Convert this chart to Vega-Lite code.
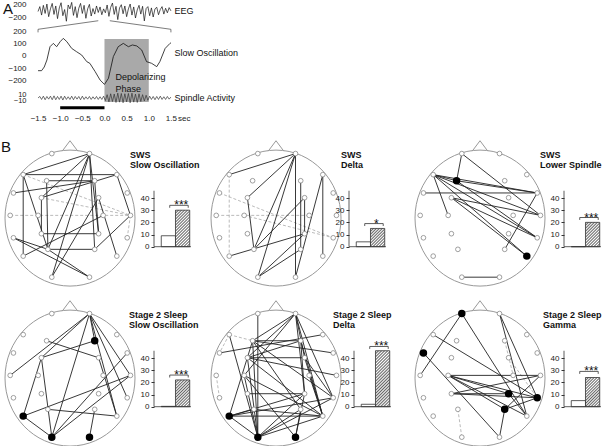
{
"$schema":"https://vega.github.io/schema/vega-lite/v6.json",
"padding":{"left":1,"top":0,"right":2,"bottom":2},
"config":{"view":{"stroke":null},"font":"Liberation Sans","axis":{"grid":false,"labelColor":"#222","domainColor":"#333","tickColor":"#333"}},
"datasets":{
"elec":[{"e":"Fp1","x":-0.28,"y":0.95},{"e":"Fp2","x":0.3,"y":0.95},{"e":"F7","x":-0.72,"y":0.64},{"e":"F8","x":0.72,"y":0.64},{"e":"F3","x":-0.36,"y":0.55},{"e":"F4","x":0.38,"y":0.55},{"e":"FT7","x":-0.87,"y":0.37},{"e":"FT8","x":0.88,"y":0.37},{"e":"FC3","x":-0.44,"y":0.3},{"e":"FC4","x":0.44,"y":0.3},{"e":"T7","x":-0.92,"y":0.04},{"e":"T8","x":0.93,"y":0.04},{"e":"C3","x":-0.49,"y":0.04},{"e":"C4","x":0.51,"y":0.04},{"e":"TP7","x":-0.87,"y":-0.29},{"e":"TP8","x":0.88,"y":-0.29},{"e":"CP3","x":-0.44,"y":-0.23},{"e":"CP4","x":0.44,"y":-0.23},{"e":"P7","x":-0.72,"y":-0.56},{"e":"P8","x":0.72,"y":-0.56},{"e":"P3","x":-0.34,"y":-0.46},{"e":"P4","x":0.38,"y":-0.46},{"e":"O1","x":-0.28,"y":-0.87},{"e":"O2","x":0.3,"y":-0.87}],
"edges":[
{"p":1,"a":"F7","b":"F8"},{"p":1,"a":"F7","b":"Fp2"},{"p":1,"a":"F7","b":"P3"},{"p":1,"a":"F7","b":"P7"},{"p":1,"a":"FT7","b":"F4"},{"p":1,"a":"F3","b":"F4"},{"p":1,"a":"FC3","b":"CP3"},{"p":1,"a":"F3","b":"P3"},{"p":1,"a":"Fp2","b":"P4"},{"p":1,"a":"F4","b":"CP4"},{"p":1,"a":"CP3","b":"CP4"},{"p":1,"a":"P3","b":"P4"},{"p":1,"a":"TP7","b":"O2"},{"p":1,"a":"Fp2","b":"O1"},{"p":1,"a":"Fp2","b":"P3"},{"p":1,"a":"Fp2","b":"FC3"},{"p":1,"a":"O1","b":"FC4"},{"p":1,"a":"P7","b":"C4"},{"p":1,"a":"P3","b":"O2"},{"p":1,"a":"FC4","b":"P8"},{"p":1,"a":"T8","b":"P4"},{"p":1,"a":"F8","b":"T8"},{"p":1,"a":"Fp2","b":"CP4"},{"p":1,"a":"TP7","b":"P3"},{"p":1,"a":"FC3","b":"F8"},
{"p":1,"a":"F7","b":"T8","k":"d"},{"p":1,"a":"FC3","b":"T8","k":"d"},{"p":1,"a":"T7","b":"T8","k":"d"},{"p":1,"a":"T8","b":"TP8","k":"d"},
{"p":2,"a":"F7","b":"Fp2"},{"p":2,"a":"Fp2","b":"FC3"},{"p":2,"a":"Fp2","b":"O1"},{"p":2,"a":"Fp2","b":"O2"},{"p":2,"a":"Fp2","b":"P3"},{"p":2,"a":"FC3","b":"P3"},{"p":2,"a":"F4","b":"P4"},{"p":2,"a":"FC4","b":"CP4"},{"p":2,"a":"F8","b":"O2"},{"p":2,"a":"F8","b":"P8"},{"p":2,"a":"P3","b":"FC4"},{"p":2,"a":"P7","b":"CP4"},{"p":2,"a":"O1","b":"CP4"},{"p":2,"a":"O1","b":"P4"},
{"p":2,"a":"FT7","b":"TP8","k":"d"},{"p":2,"a":"T7","b":"C4","k":"d"},{"p":2,"a":"C3","b":"TP8","k":"d"},{"p":2,"a":"F7","b":"P7","k":"d"},
{"p":3,"a":"Fp1","b":"F3"},{"p":3,"a":"Fp1","b":"T8"},{"p":3,"a":"F7","b":"FT8"},{"p":3,"a":"F7","b":"T8"},{"p":3,"a":"F7","b":"TP8"},{"p":3,"a":"F7","b":"C3"},{"p":3,"a":"F7","b":"F3"},{"p":3,"a":"F3","b":"FT8"},{"p":3,"a":"FT7","b":"FT8"},{"p":3,"a":"FC3","b":"P8"},{"p":3,"a":"FC3","b":"TP8"},{"p":3,"a":"FC3","b":"T8"},{"p":3,"a":"F7","b":"P8"},{"p":3,"a":"P4","b":"FT8"},{"p":3,"a":"O1","b":"O2"},{"p":3,"a":"F3","b":"TP8"},
{"p":4,"a":"Fp2","b":"T7"},{"p":4,"a":"Fp2","b":"FC3"},{"p":4,"a":"Fp2","b":"F4"},{"p":4,"a":"Fp2","b":"T8"},{"p":4,"a":"Fp2","b":"P8"},{"p":4,"a":"Fp2","b":"O1"},{"p":4,"a":"F4","b":"FC3"},{"p":4,"a":"F3","b":"FC4"},{"p":4,"a":"FC3","b":"P7"},{"p":4,"a":"FC3","b":"O1"},{"p":4,"a":"P7","b":"T8"},{"p":4,"a":"P7","b":"O1"},{"p":4,"a":"P3","b":"P8"},{"p":4,"a":"O1","b":"T8"},{"p":4,"a":"O1","b":"FT8"},{"p":4,"a":"O2","b":"P4"},{"p":4,"a":"FC4","b":"P8"},{"p":4,"a":"Fp2","b":"TP8"},
{"p":5,"a":"Fp1","b":"O1"},{"p":5,"a":"Fp2","b":"F3"},{"p":5,"a":"Fp2","b":"FC3"},{"p":5,"a":"Fp2","b":"C3"},{"p":5,"a":"Fp2","b":"CP4"},{"p":5,"a":"Fp2","b":"P8"},{"p":5,"a":"Fp2","b":"TP8"},{"p":5,"a":"Fp2","b":"FC4"},{"p":5,"a":"F3","b":"F4"},{"p":5,"a":"F3","b":"FT8"},{"p":5,"a":"F3","b":"P7"},{"p":5,"a":"F3","b":"O1"},{"p":5,"a":"F3","b":"P4"},{"p":5,"a":"F3","b":"TP8"},{"p":5,"a":"FT7","b":"F8"},{"p":5,"a":"FC3","b":"FC4"},{"p":5,"a":"FC3","b":"T8"},{"p":5,"a":"FC3","b":"P8"},{"p":5,"a":"FC3","b":"O1"},{"p":5,"a":"C3","b":"O1"},{"p":5,"a":"C3","b":"P8"},{"p":5,"a":"F4","b":"CP4"},{"p":5,"a":"F4","b":"P8"},{"p":5,"a":"F4","b":"FC3"},{"p":5,"a":"FC4","b":"TP8"},{"p":5,"a":"FC4","b":"P8"},{"p":5,"a":"P7","b":"TP8"},{"p":5,"a":"P7","b":"P8"},{"p":5,"a":"P7","b":"CP4"},{"p":5,"a":"P7","b":"O1"},{"p":5,"a":"P7","b":"P3"},{"p":5,"a":"P3","b":"P8"},{"p":5,"a":"O1","b":"TP8"},{"p":5,"a":"O1","b":"P8"},{"p":5,"a":"O1","b":"CP4"},{"p":5,"a":"O1","b":"P4"},{"p":5,"a":"O2","b":"P4"},{"p":5,"a":"O2","b":"CP4"},{"p":5,"a":"O2","b":"C3"},{"p":5,"a":"F7","b":"O1"},{"p":5,"a":"CP3","b":"CP4"},{"p":5,"a":"C4","b":"P8"},
{"p":5,"a":"F7","b":"F3","k":"d"},{"p":5,"a":"T7","b":"TP7","k":"d"},{"p":5,"a":"F7","b":"FT7","k":"d"},
{"p":6,"a":"Fp1","b":"P8"},{"p":6,"a":"Fp1","b":"T7"},{"p":6,"a":"Fp2","b":"TP8"},{"p":6,"a":"Fp2","b":"P8"},{"p":6,"a":"F7","b":"TP8"},{"p":6,"a":"FT7","b":"O2"},{"p":6,"a":"C3","b":"TP8"},{"p":6,"a":"C3","b":"CP4"},{"p":6,"a":"C3","b":"P8"},{"p":6,"a":"CP3","b":"T8"},{"p":6,"a":"CP3","b":"TP8"},{"p":6,"a":"CP3","b":"CP4"},{"p":6,"a":"P4","b":"TP8"},{"p":6,"a":"P4","b":"T8"},{"p":6,"a":"P4","b":"O2"},{"p":6,"a":"P4","b":"C3"},{"p":6,"a":"CP4","b":"P8"},{"p":6,"a":"C3","b":"T8"},
{"p":6,"a":"P3","b":"O1","k":"d"},{"p":6,"a":"FC4","b":"TP8","k":"d"},{"p":6,"a":"F4","b":"C4","k":"d"}
],
"black":[{"p":3,"e":"F3"},{"p":3,"e":"P8"},{"p":4,"e":"F4"},{"p":4,"e":"P7"},{"p":4,"e":"O1"},{"p":4,"e":"O2"},{"p":5,"e":"P7"},{"p":5,"e":"O1"},{"p":5,"e":"O2"},{"p":6,"e":"Fp1"},{"p":6,"e":"FT7"},{"p":6,"e":"CP4"},{"p":6,"e":"P4"},{"p":6,"e":"TP8"}],
"eeg":[{"t":-1.5,"v":0},{"t":-1.46,"v":150},{"t":-1.42,"v":-110},{"t":-1.38,"v":190},{"t":-1.34,"v":-60},{"t":-1.3,"v":230},{"t":-1.26,"v":-160},{"t":-1.22,"v":80},{"t":-1.18,"v":250},{"t":-1.14,"v":-90},{"t":-1.1,"v":170},{"t":-1.06,"v":-220},{"t":-1.02,"v":110},{"t":-0.98,"v":270},{"t":-0.94,"v":-130},{"t":-0.9,"v":60},{"t":-0.86,"v":-300},{"t":-0.82,"v":200},{"t":-0.78,"v":80},{"t":-0.74,"v":280},{"t":-0.7,"v":-120},{"t":-0.66,"v":150},{"t":-0.62,"v":-190},{"t":-0.58,"v":100},{"t":-0.54,"v":250},{"t":-0.5,"v":-60},{"t":-0.46,"v":190},{"t":-0.42,"v":-210},{"t":-0.38,"v":80},{"t":-0.34,"v":220},{"t":-0.3,"v":-140},{"t":-0.26,"v":90},{"t":-0.22,"v":-80},{"t":-0.18,"v":170},{"t":-0.14,"v":-30},{"t":-0.1,"v":140},{"t":-0.06,"v":-100},{"t":-0.02,"v":80},{"t":0.02,"v":-40},{"t":0.06,"v":200},{"t":0.1,"v":-150},{"t":0.14,"v":130},{"t":0.18,"v":260},{"t":0.22,"v":-90},{"t":0.26,"v":160},{"t":0.3,"v":-250},{"t":0.34,"v":110},{"t":0.38,"v":210},{"t":0.42,"v":-70},{"t":0.46,"v":170},{"t":0.5,"v":-160},{"t":0.54,"v":80},{"t":0.58,"v":230},{"t":0.62,"v":-110},{"t":0.66,"v":140},{"t":0.7,"v":-200},{"t":0.74,"v":50},{"t":0.78,"v":190},{"t":0.82,"v":-80},{"t":0.86,"v":160},{"t":0.9,"v":-290},{"t":0.94,"v":90},{"t":0.98,"v":150},{"t":1.02,"v":-130},{"t":1.06,"v":110},{"t":1.1,"v":-170},{"t":1.14,"v":80},{"t":1.18,"v":130},{"t":1.22,"v":-100},{"t":1.26,"v":60},{"t":1.3,"v":150},{"t":1.34,"v":-80},{"t":1.38,"v":100},{"t":1.42,"v":-40},{"t":1.46,"v":120},{"t":1.5,"v":20}],
"so":[{"t":-1.5,"v":-120},{"t":-1.42,"v":-120},{"t":-1.36,"v":-90},{"t":-1.3,"v":-33},{"t":-1.23,"v":76},{"t":-1.155,"v":103},{"t":-1.08,"v":76},{"t":-1.0,"v":117},{"t":-0.93,"v":144},{"t":-0.85,"v":117},{"t":-0.74,"v":62},{"t":-0.63,"v":35},{"t":-0.515,"v":8},{"t":-0.4,"v":-46},{"t":-0.33,"v":-60},{"t":-0.21,"v":-128},{"t":-0.1,"v":-196},{"t":0.0,"v":-232},{"t":0.09,"v":-182},{"t":0.2,"v":-5},{"t":0.31,"v":76},{"t":0.425,"v":103},{"t":0.54,"v":76},{"t":0.63,"v":90},{"t":0.73,"v":82},{"t":0.84,"v":49},{"t":0.95,"v":-46},{"t":1.065,"v":-60},{"t":1.18,"v":-87},{"t":1.25,"v":-46},{"t":1.37,"v":62},{"t":1.48,"v":103},{"t":1.5,"v":108}],
"sp":[{"t":-1.5,"v":0},{"t":-1.46,"v":5},{"t":-1.42,"v":-5},{"t":-1.38,"v":6},{"t":-1.34,"v":-6},{"t":-1.3,"v":5},{"t":-1.26,"v":-4},{"t":-1.22,"v":6},{"t":-1.18,"v":-6},{"t":-1.14,"v":7},{"t":-1.1,"v":-6},{"t":-1.06,"v":5},{"t":-1.02,"v":-5},{"t":-0.98,"v":6},{"t":-0.94,"v":-7},{"t":-0.9,"v":6},{"t":-0.86,"v":-5},{"t":-0.82,"v":4},{"t":-0.78,"v":-5},{"t":-0.74,"v":6},{"t":-0.7,"v":-6},{"t":-0.66,"v":5},{"t":-0.62,"v":-4},{"t":-0.58,"v":5},{"t":-0.54,"v":-6},{"t":-0.5,"v":6},{"t":-0.46,"v":-5},{"t":-0.42,"v":4},{"t":-0.38,"v":-4},{"t":-0.34,"v":5},{"t":-0.3,"v":-5},{"t":-0.26,"v":4},{"t":-0.22,"v":-4},{"t":-0.18,"v":5},{"t":-0.14,"v":-5},{"t":-0.1,"v":4},{"t":-0.06,"v":-5},{"t":-0.02,"v":6},{"t":0.02,"v":-9},{"t":0.06,"v":11},{"t":0.1,"v":-13},{"t":0.14,"v":14},{"t":0.18,"v":-12},{"t":0.22,"v":13},{"t":0.26,"v":-15},{"t":0.3,"v":16},{"t":0.34,"v":-14},{"t":0.38,"v":15},{"t":0.42,"v":-16},{"t":0.46,"v":14},{"t":0.5,"v":-13},{"t":0.54,"v":15},{"t":0.58,"v":-16},{"t":0.62,"v":16},{"t":0.66,"v":-14},{"t":0.7,"v":13},{"t":0.74,"v":-15},{"t":0.78,"v":14},{"t":0.82,"v":-12},{"t":0.86,"v":11},{"t":0.9,"v":-10},{"t":0.94,"v":9},{"t":0.98,"v":-8},{"t":1.02,"v":6},{"t":1.06,"v":-5},{"t":1.1,"v":5},{"t":1.14,"v":-6},{"t":1.18,"v":5},{"t":1.22,"v":-5},{"t":1.26,"v":6},{"t":1.3,"v":-5},{"t":1.34,"v":4},{"t":1.38,"v":-5},{"t":1.42,"v":5},{"t":1.46,"v":-4},{"t":1.5,"v":3}]
},
"spacing":9,
"vconcat":[
{"spacing":16,"vconcat":[
 {"width":254.5,"height":112,
  "resolve":{"scale":{"y":"independent"},"axis":{"y":"independent"}},
  "encoding":{"x":{"field":"t","type":"quantitative","scale":{"domain":[-2.246,3.5],"nice":false,"zero":false},"axis":{"values":[-1.5,-1,-0.5,0,0.5,1,1.5,1.79],"labelExpr":"datum.value > 1.6 ? 'sec' : format(datum.value, '.1f')","domain":false,"ticks":false,"labelFontSize":8,"labelPadding":2,"title":null,"labelOverlap":false,"labelFlush":false}}},
  "layer":[
   {"data":{"values":[{"t":0,"t2":1,"v":139,"v2":-375.7}]},"mark":{"type":"rect","fill":"#a9a9a9"},"encoding":{"x2":{"field":"t2"},"y":{"field":"v","type":"quantitative","scale":{"domain":[-457.4,457.3],"nice":false,"zero":false},"axis":null},"y2":{"field":"v2"}}},
   {"data":{"name":"eeg"},"mark":{"type":"line","stroke":"#111","strokeWidth":0.7},"encoding":{"y":{"field":"v","type":"quantitative","scale":{"domain":[-3096,354],"nice":false,"zero":false},"axis":{"orient":"left","offset":-32,"values":[200,-200],"domain":false,"ticks":false,"labelFontSize":8,"labelPadding":11,"title":null,"labelOverlap":false}}}},
   {"data":{"name":"so"},"mark":{"type":"line","stroke":"#111","strokeWidth":0.8},"encoding":{"y":{"field":"v","type":"quantitative","scale":{"domain":[-457.4,457.3],"nice":false,"zero":false},"axis":{"orient":"left","offset":-32,"values":[200,100,0,-100,-200],"domain":false,"ticks":false,"labelFontSize":8,"labelPadding":11,"title":null,"labelOverlap":false}}}},
   {"data":{"name":"sp"},"mark":{"type":"line","stroke":"#333","strokeWidth":0.7},"encoding":{"y":{"field":"v","type":"quantitative","scale":{"domain":[-47,327.7],"nice":false,"zero":false},"axis":{"orient":"left","offset":-32,"values":[10,-10],"domain":false,"ticks":false,"labelFontSize":7.5,"labelPadding":11,"title":null,"labelOverlap":false}}}},
   {"data":{"values":[{"t":-1.5,"v":193,"g":"l","o":1},{"t":-1.5,"v":218,"g":"l","o":2},{"t":-0.14,"v":288,"g":"l","o":3},{"t":0.12,"v":288,"g":"r","o":1},{"t":1.5,"v":218,"g":"r","o":2},{"t":1.5,"v":193,"g":"r","o":3}]},"mark":{"type":"line","stroke":"#444","strokeWidth":0.7},"encoding":{"y":{"field":"v","type":"quantitative","scale":{"domain":[-457.4,457.3],"nice":false,"zero":false},"axis":null},"detail":{"field":"g"},"order":{"field":"o"}}},
   {"data":{"values":[{"t":-1,"t2":0,"v":-33}]},"mark":{"type":"rule","stroke":"#000","strokeWidth":3},"encoding":{"x2":{"field":"t2"},"y":{"field":"v","type":"quantitative","scale":{"domain":[-47,327.7],"nice":false,"zero":false},"axis":null}}},
   {"data":{"values":[{"t":1.58,"v":370,"s":"EEG"},{"t":1.58,"v":22,"s":"Slow Oscillation"},{"t":1.58,"v":-345,"s":"Spindle Activity"},{"t":0.25,"v":-174,"s":"Depolarizing"},{"t":0.25,"v":-272,"s":"Phase"}]},"mark":{"type":"text","align":"left","baseline":"middle","fontSize":9,"fill":"#111"},"encoding":{"y":{"field":"v","type":"quantitative","scale":{"domain":[-457.4,457.3],"nice":false,"zero":false},"axis":null},"text":{"field":"s"}}},
   {"data":{"values":[{"t":-2.29,"v":441,"s":"A"}]},"mark":{"type":"text","align":"left","baseline":"top","fontSize":15,"fill":"#111"},"encoding":{"y":{"field":"v","type":"quantitative","scale":{"domain":[-457.4,457.3],"nice":false,"zero":false},"axis":null},"text":{"field":"s"}}}
  ]},
 {"bounds":"flush","spacing":8,"hconcat":[
  {"width":141,"height":146,
   "encoding":{"x":{"field":"x","type":"quantitative","scale":{"domain":[-1,1.169],"nice":false,"zero":false},"axis":null},"y":{"field":"y","type":"quantitative","scale":{"domain":[-1,1.15],"nice":false,"zero":false},"axis":null}},
   "layer":[
    {"data":{"values":[{"x":0,"y":0}]},"mark":{"type":"point","shape":"M -1 0 A 1 1.046 0 1 1 1 0 A 1 1.046 0 1 1 -1 0 Z M -0.12 -1.03 L 0 -1.19 L 0.12 -1.03","size":16900,"filled":false,"stroke":"#999","strokeWidth":1,"opacity":1}},
    {"data":{"name":"edges"},"transform":[{"filter":"datum.p==1 && datum.k=='d'"},{"lookup":"a","from":{"data":{"name":"elec"},"key":"e","fields":["x","y"]},"as":["x","y"]},{"lookup":"b","from":{"data":{"name":"elec"},"key":"e","fields":["x","y"]},"as":["xb","yb"]}],"mark":{"type":"rule","stroke":"#aaa","strokeWidth":0.8,"strokeDash":[3,2]},"encoding":{"x2":{"field":"xb"},"y2":{"field":"yb"}}},
    {"data":{"name":"edges"},"transform":[{"filter":"datum.p==1 && datum.k!='d'"},{"lookup":"a","from":{"data":{"name":"elec"},"key":"e","fields":["x","y"]},"as":["x","y"]},{"lookup":"b","from":{"data":{"name":"elec"},"key":"e","fields":["x","y"]},"as":["xb","yb"]}],"mark":{"type":"rule","stroke":"#222","strokeWidth":0.9},"encoding":{"x2":{"field":"xb"},"y2":{"field":"yb"}}},
    {"data":{"name":"elec"},"mark":{"type":"point","filled":true,"fill":"#fff","stroke":"#888","strokeWidth":0.8,"size":22,"opacity":1}},
    {"data":{"values":[{"x":-1.06,"y":1.155,"s":"B"}]},"mark":{"type":"text","align":"left","baseline":"top","fontSize":15,"fill":"#111"},"encoding":{"text":{"field":"s"}}}
   ]},
  {"width":37,"height":146,"resolve":{"scale":{"x":"independent"}},
   "data":{"values":[{"c":"a","v":9},{"c":"b","v":30}]},
   "layer":[
    {"transform":[{"filter":"datum.c=='a'"}],"mark":{"type":"bar","fill":"#fff","stroke":"#333","strokeWidth":0.8},"encoding":{"x":{"field":"c","type":"nominal","scale":{"domain":["a","b"],"paddingInner":0,"paddingOuter":0.3,"align":0.85},"axis":null},"y":{"field":"v","type":"quantitative","scale":{"domain":[-32.3,87.7],"nice":false},"axis":{"values":[0,10,20,30,40],"domain":false,"title":null,"tickSize":3,"labelFontSize":8,"labelPadding":2}},"y2":{"datum":0}}},
    {"transform":[{"filter":"datum.c=='b'"}],"mark":{"type":"bar","stroke":"#333","strokeWidth":0.8,"fill":{"gradient":"linear","x1":0,"y1":0,"x2":0.469,"y2":1.207,"stops":[{"offset":0,"color":"#666"},{"offset":0.029,"color":"#fff"},{"offset":0.059,"color":"#666"},{"offset":0.088,"color":"#fff"},{"offset":0.118,"color":"#666"},{"offset":0.147,"color":"#fff"},{"offset":0.176,"color":"#666"},{"offset":0.206,"color":"#fff"},{"offset":0.235,"color":"#666"},{"offset":0.265,"color":"#fff"},{"offset":0.294,"color":"#666"},{"offset":0.324,"color":"#fff"},{"offset":0.353,"color":"#666"},{"offset":0.382,"color":"#fff"},{"offset":0.412,"color":"#666"},{"offset":0.441,"color":"#fff"},{"offset":0.471,"color":"#666"},{"offset":0.5,"color":"#fff"},{"offset":0.529,"color":"#666"},{"offset":0.559,"color":"#fff"},{"offset":0.588,"color":"#666"},{"offset":0.618,"color":"#fff"},{"offset":0.647,"color":"#666"},{"offset":0.676,"color":"#fff"},{"offset":0.706,"color":"#666"},{"offset":0.735,"color":"#fff"},{"offset":0.765,"color":"#666"},{"offset":0.794,"color":"#fff"},{"offset":0.824,"color":"#666"},{"offset":0.853,"color":"#fff"},{"offset":0.882,"color":"#666"},{"offset":0.912,"color":"#fff"},{"offset":0.941,"color":"#666"},{"offset":0.971,"color":"#fff"},{"offset":1,"color":"#666"}]}},"encoding":{"x":{"field":"c","type":"nominal","scale":{"domain":["a","b"],"paddingInner":0,"paddingOuter":0.3,"align":0.85},"axis":null},"y":{"field":"v","type":"quantitative","scale":{"domain":[-32.3,87.7],"nice":false},"axis":{"values":[0,10,20,30,40],"domain":false,"title":null,"tickSize":3,"labelFontSize":8,"labelPadding":2}},"y2":{"datum":0}}},
    {"data":{"values":[{"c":"a","v":32,"o":1},{"c":"a","v":34,"o":2},{"c":"b","v":34,"o":3},{"c":"b","v":32,"o":4}]},"mark":{"type":"line","stroke":"#333","strokeWidth":0.8},"encoding":{"x":{"field":"c","type":"nominal","scale":{"domain":["a","b"],"paddingInner":0,"paddingOuter":0.3,"align":0.85},"axis":null},"y":{"field":"v","type":"quantitative","scale":{"domain":[-32.3,87.7],"nice":false},"axis":{"values":[0,10,20,30,40],"domain":false,"title":null,"tickSize":3,"labelFontSize":8,"labelPadding":2}},"order":{"field":"o"}}},
    {"data":{"values":[{"c":"b","v":34,"s":"***"}]},"mark":{"type":"text","align":"center","baseline":"alphabetic","dx":-7,"dy":4,"fontSize":12,"fill":"#111"},"encoding":{"x":{"field":"c","type":"nominal","scale":{"domain":["a","b"],"paddingInner":0,"paddingOuter":0.3,"align":0.85},"axis":null},"y":{"field":"v","type":"quantitative","scale":{"domain":[-32.3,87.7],"nice":false},"axis":{"values":[0,10,20,30,40],"domain":false,"title":null,"tickSize":3,"labelFontSize":8,"labelPadding":2}},"text":{"field":"s"}}},
    {"data":{"values":[{}]},"mark":{"type":"rule","stroke":"#333","strokeWidth":0.8},"encoding":{"y":{"datum":0,"type":"quantitative","scale":{"domain":[-32.3,87.7],"nice":false},"axis":{"values":[0,10,20,30,40],"domain":false,"title":null,"tickSize":3,"labelFontSize":8,"labelPadding":2}}}},
    {"data":{"values":[{}]},"mark":{"type":"rule","stroke":"#333","strokeWidth":0.8},"encoding":{"x":{"datum":0,"type":"quantitative","scale":{"domain":[0,1]},"axis":null},"y":{"datum":0,"type":"quantitative","scale":{"domain":[-32.3,87.7],"nice":false},"axis":{"values":[0,10,20,30,40],"domain":false,"title":null,"tickSize":3,"labelFontSize":8,"labelPadding":2}},"y2":{"datum":46}}},
    {"data":{"values":[{"s":"SWS","v":75.5},{"s":"Slow Oscillation","v":67.3}]},"mark":{"type":"text","align":"left","baseline":"middle","dx":-24,"fontSize":9,"fontWeight":"bold","fill":"#111"},"encoding":{"x":{"datum":0,"type":"quantitative","scale":{"domain":[0,1]},"axis":null},"y":{"field":"v","type":"quantitative","scale":{"domain":[-32.3,87.7],"nice":false},"axis":{"values":[0,10,20,30,40],"domain":false,"title":null,"tickSize":3,"labelFontSize":8,"labelPadding":2}},"text":{"field":"s"}}}
   ]},
  {"width":142,"height":146,
   "encoding":{"x":{"field":"x","type":"quantitative","scale":{"domain":[-1.185,1],"nice":false,"zero":false},"axis":null},"y":{"field":"y","type":"quantitative","scale":{"domain":[-1,1.15],"nice":false,"zero":false},"axis":null}},
   "layer":[
    {"data":{"values":[{"x":0,"y":0}]},"mark":{"type":"point","shape":"M -1 0 A 1 1.046 0 1 1 1 0 A 1 1.046 0 1 1 -1 0 Z M -0.12 -1.03 L 0 -1.19 L 0.12 -1.03","size":16900,"filled":false,"stroke":"#999","strokeWidth":1,"opacity":1}},
    {"data":{"name":"edges"},"transform":[{"filter":"datum.p==2 && datum.k=='d'"},{"lookup":"a","from":{"data":{"name":"elec"},"key":"e","fields":["x","y"]},"as":["x","y"]},{"lookup":"b","from":{"data":{"name":"elec"},"key":"e","fields":["x","y"]},"as":["xb","yb"]}],"mark":{"type":"rule","stroke":"#aaa","strokeWidth":0.8,"strokeDash":[3,2]},"encoding":{"x2":{"field":"xb"},"y2":{"field":"yb"}}},
    {"data":{"name":"edges"},"transform":[{"filter":"datum.p==2 && datum.k!='d'"},{"lookup":"a","from":{"data":{"name":"elec"},"key":"e","fields":["x","y"]},"as":["x","y"]},{"lookup":"b","from":{"data":{"name":"elec"},"key":"e","fields":["x","y"]},"as":["xb","yb"]}],"mark":{"type":"rule","stroke":"#222","strokeWidth":0.9},"encoding":{"x2":{"field":"xb"},"y2":{"field":"yb"}}},
    {"data":{"name":"elec"},"mark":{"type":"point","filled":true,"fill":"#fff","stroke":"#888","strokeWidth":0.8,"size":22,"opacity":1}}
   ]},
  {"width":37,"height":146,"resolve":{"scale":{"x":"independent"}},
   "data":{"values":[{"c":"a","v":4},{"c":"b","v":15}]},
   "layer":[
    {"transform":[{"filter":"datum.c=='a'"}],"mark":{"type":"bar","fill":"#fff","stroke":"#333","strokeWidth":0.8},"encoding":{"x":{"field":"c","type":"nominal","scale":{"domain":["a","b"],"paddingInner":0,"paddingOuter":0.3,"align":0.85},"axis":null},"y":{"field":"v","type":"quantitative","scale":{"domain":[-32.3,87.7],"nice":false},"axis":{"values":[0,10,20,30,40],"domain":false,"title":null,"tickSize":3,"labelFontSize":8,"labelPadding":2}},"y2":{"datum":0}}},
    {"transform":[{"filter":"datum.c=='b'"}],"mark":{"type":"bar","stroke":"#333","strokeWidth":0.8,"fill":{"gradient":"linear","x1":0,"y1":0,"x2":0.86,"y2":1.109,"stops":[{"offset":0,"color":"#666"},{"offset":0.045,"color":"#fff"},{"offset":0.091,"color":"#666"},{"offset":0.136,"color":"#fff"},{"offset":0.182,"color":"#666"},{"offset":0.227,"color":"#fff"},{"offset":0.273,"color":"#666"},{"offset":0.318,"color":"#fff"},{"offset":0.364,"color":"#666"},{"offset":0.409,"color":"#fff"},{"offset":0.455,"color":"#666"},{"offset":0.5,"color":"#fff"},{"offset":0.545,"color":"#666"},{"offset":0.591,"color":"#fff"},{"offset":0.636,"color":"#666"},{"offset":0.682,"color":"#fff"},{"offset":0.727,"color":"#666"},{"offset":0.773,"color":"#fff"},{"offset":0.818,"color":"#666"},{"offset":0.864,"color":"#fff"},{"offset":0.909,"color":"#666"},{"offset":0.955,"color":"#fff"},{"offset":1,"color":"#666"}]}},"encoding":{"x":{"field":"c","type":"nominal","scale":{"domain":["a","b"],"paddingInner":0,"paddingOuter":0.3,"align":0.85},"axis":null},"y":{"field":"v","type":"quantitative","scale":{"domain":[-32.3,87.7],"nice":false},"axis":{"values":[0,10,20,30,40],"domain":false,"title":null,"tickSize":3,"labelFontSize":8,"labelPadding":2}},"y2":{"datum":0}}},
    {"data":{"values":[{"c":"a","v":17,"o":1},{"c":"a","v":19,"o":2},{"c":"b","v":19,"o":3},{"c":"b","v":17,"o":4}]},"mark":{"type":"line","stroke":"#333","strokeWidth":0.8},"encoding":{"x":{"field":"c","type":"nominal","scale":{"domain":["a","b"],"paddingInner":0,"paddingOuter":0.3,"align":0.85},"axis":null},"y":{"field":"v","type":"quantitative","scale":{"domain":[-32.3,87.7],"nice":false},"axis":{"values":[0,10,20,30,40],"domain":false,"title":null,"tickSize":3,"labelFontSize":8,"labelPadding":2}},"order":{"field":"o"}}},
    {"data":{"values":[{"c":"b","v":19,"s":"*"}]},"mark":{"type":"text","align":"center","baseline":"alphabetic","dx":-7,"dy":4,"fontSize":12,"fill":"#111"},"encoding":{"x":{"field":"c","type":"nominal","scale":{"domain":["a","b"],"paddingInner":0,"paddingOuter":0.3,"align":0.85},"axis":null},"y":{"field":"v","type":"quantitative","scale":{"domain":[-32.3,87.7],"nice":false},"axis":{"values":[0,10,20,30,40],"domain":false,"title":null,"tickSize":3,"labelFontSize":8,"labelPadding":2}},"text":{"field":"s"}}},
    {"data":{"values":[{}]},"mark":{"type":"rule","stroke":"#333","strokeWidth":0.8},"encoding":{"y":{"datum":0,"type":"quantitative","scale":{"domain":[-32.3,87.7],"nice":false},"axis":{"values":[0,10,20,30,40],"domain":false,"title":null,"tickSize":3,"labelFontSize":8,"labelPadding":2}}}},
    {"data":{"values":[{}]},"mark":{"type":"rule","stroke":"#333","strokeWidth":0.8},"encoding":{"x":{"datum":0,"type":"quantitative","scale":{"domain":[0,1]},"axis":null},"y":{"datum":0,"type":"quantitative","scale":{"domain":[-32.3,87.7],"nice":false},"axis":{"values":[0,10,20,30,40],"domain":false,"title":null,"tickSize":3,"labelFontSize":8,"labelPadding":2}},"y2":{"datum":46}}},
    {"data":{"values":[{"s":"SWS","v":75.5},{"s":"Delta","v":67.3}]},"mark":{"type":"text","align":"left","baseline":"middle","dx":-8,"fontSize":9,"fontWeight":"bold","fill":"#111"},"encoding":{"x":{"datum":0,"type":"quantitative","scale":{"domain":[0,1]},"axis":null},"y":{"field":"v","type":"quantitative","scale":{"domain":[-32.3,87.7],"nice":false},"axis":{"values":[0,10,20,30,40],"domain":false,"title":null,"tickSize":3,"labelFontSize":8,"labelPadding":2}},"text":{"field":"s"}}}
   ]},
  {"width":162,"height":146,
   "encoding":{"x":{"field":"x","type":"quantitative","scale":{"domain":[-1.323,1.169],"nice":false,"zero":false},"axis":null},"y":{"field":"y","type":"quantitative","scale":{"domain":[-1,1.15],"nice":false,"zero":false},"axis":null}},
   "layer":[
    {"data":{"values":[{"x":0,"y":0}]},"mark":{"type":"point","shape":"M -1 0 A 1 1.046 0 1 1 1 0 A 1 1.046 0 1 1 -1 0 Z M -0.12 -1.03 L 0 -1.19 L 0.12 -1.03","size":16900,"filled":false,"stroke":"#999","strokeWidth":1,"opacity":1}},
    {"data":{"name":"edges"},"transform":[{"filter":"datum.p==3 && datum.k!='d'"},{"lookup":"a","from":{"data":{"name":"elec"},"key":"e","fields":["x","y"]},"as":["x","y"]},{"lookup":"b","from":{"data":{"name":"elec"},"key":"e","fields":["x","y"]},"as":["xb","yb"]}],"mark":{"type":"rule","stroke":"#222","strokeWidth":0.9},"encoding":{"x2":{"field":"xb"},"y2":{"field":"yb"}}},
    {"data":{"name":"elec"},"mark":{"type":"point","filled":true,"fill":"#fff","stroke":"#888","strokeWidth":0.8,"size":22,"opacity":1}},
    {"data":{"name":"black"},"transform":[{"filter":"datum.p==3"},{"lookup":"e","from":{"data":{"name":"elec"},"key":"e","fields":["x","y"]}}],"mark":{"type":"point","filled":true,"fill":"#000","stroke":"#000","size":30,"opacity":1}}
   ]},
  {"width":37,"height":146,"resolve":{"scale":{"x":"independent"}},
   "data":{"values":[{"c":"a","v":0},{"c":"b","v":20}]},
   "layer":[
    {"transform":[{"filter":"datum.c=='a'"}],"mark":{"type":"bar","fill":"#fff","stroke":"#333","strokeWidth":0.8},"encoding":{"x":{"field":"c","type":"nominal","scale":{"domain":["a","b"],"paddingInner":0,"paddingOuter":0.3,"align":0.85},"axis":null},"y":{"field":"v","type":"quantitative","scale":{"domain":[-32.3,87.7],"nice":false},"axis":{"values":[0,10,20,30,40],"domain":false,"title":null,"tickSize":3,"labelFontSize":8,"labelPadding":2}},"y2":{"datum":0}}},
    {"transform":[{"filter":"datum.c=='b'"}],"mark":{"type":"bar","stroke":"#333","strokeWidth":0.8,"fill":{"gradient":"linear","x1":0,"y1":0,"x2":0.69,"y2":1.181,"stops":[{"offset":0,"color":"#666"},{"offset":0.038,"color":"#fff"},{"offset":0.077,"color":"#666"},{"offset":0.115,"color":"#fff"},{"offset":0.154,"color":"#666"},{"offset":0.192,"color":"#fff"},{"offset":0.231,"color":"#666"},{"offset":0.269,"color":"#fff"},{"offset":0.308,"color":"#666"},{"offset":0.346,"color":"#fff"},{"offset":0.385,"color":"#666"},{"offset":0.423,"color":"#fff"},{"offset":0.462,"color":"#666"},{"offset":0.5,"color":"#fff"},{"offset":0.538,"color":"#666"},{"offset":0.577,"color":"#fff"},{"offset":0.615,"color":"#666"},{"offset":0.654,"color":"#fff"},{"offset":0.692,"color":"#666"},{"offset":0.731,"color":"#fff"},{"offset":0.769,"color":"#666"},{"offset":0.808,"color":"#fff"},{"offset":0.846,"color":"#666"},{"offset":0.885,"color":"#fff"},{"offset":0.923,"color":"#666"},{"offset":0.962,"color":"#fff"},{"offset":1,"color":"#666"}]}},"encoding":{"x":{"field":"c","type":"nominal","scale":{"domain":["a","b"],"paddingInner":0,"paddingOuter":0.3,"align":0.85},"axis":null},"y":{"field":"v","type":"quantitative","scale":{"domain":[-32.3,87.7],"nice":false},"axis":{"values":[0,10,20,30,40],"domain":false,"title":null,"tickSize":3,"labelFontSize":8,"labelPadding":2}},"y2":{"datum":0}}},
    {"data":{"values":[{"c":"a","v":22,"o":1},{"c":"a","v":24,"o":2},{"c":"b","v":24,"o":3},{"c":"b","v":22,"o":4}]},"mark":{"type":"line","stroke":"#333","strokeWidth":0.8},"encoding":{"x":{"field":"c","type":"nominal","scale":{"domain":["a","b"],"paddingInner":0,"paddingOuter":0.3,"align":0.85},"axis":null},"y":{"field":"v","type":"quantitative","scale":{"domain":[-32.3,87.7],"nice":false},"axis":{"values":[0,10,20,30,40],"domain":false,"title":null,"tickSize":3,"labelFontSize":8,"labelPadding":2}},"order":{"field":"o"}}},
    {"data":{"values":[{"c":"b","v":24,"s":"***"}]},"mark":{"type":"text","align":"center","baseline":"alphabetic","dx":-7,"dy":4,"fontSize":12,"fill":"#111"},"encoding":{"x":{"field":"c","type":"nominal","scale":{"domain":["a","b"],"paddingInner":0,"paddingOuter":0.3,"align":0.85},"axis":null},"y":{"field":"v","type":"quantitative","scale":{"domain":[-32.3,87.7],"nice":false},"axis":{"values":[0,10,20,30,40],"domain":false,"title":null,"tickSize":3,"labelFontSize":8,"labelPadding":2}},"text":{"field":"s"}}},
    {"data":{"values":[{}]},"mark":{"type":"rule","stroke":"#333","strokeWidth":0.8},"encoding":{"y":{"datum":0,"type":"quantitative","scale":{"domain":[-32.3,87.7],"nice":false},"axis":{"values":[0,10,20,30,40],"domain":false,"title":null,"tickSize":3,"labelFontSize":8,"labelPadding":2}}}},
    {"data":{"values":[{}]},"mark":{"type":"rule","stroke":"#333","strokeWidth":0.8},"encoding":{"x":{"datum":0,"type":"quantitative","scale":{"domain":[0,1]},"axis":null},"y":{"datum":0,"type":"quantitative","scale":{"domain":[-32.3,87.7],"nice":false},"axis":{"values":[0,10,20,30,40],"domain":false,"title":null,"tickSize":3,"labelFontSize":8,"labelPadding":2}},"y2":{"datum":46}}},
    {"data":{"values":[{"s":"SWS","v":75.5},{"s":"Lower Spindle","v":67.3}]},"mark":{"type":"text","align":"left","baseline":"middle","dx":-24,"fontSize":9,"fontWeight":"bold","fill":"#111"},"encoding":{"x":{"datum":0,"type":"quantitative","scale":{"domain":[0,1]},"axis":null},"y":{"field":"v","type":"quantitative","scale":{"domain":[-32.3,87.7],"nice":false},"axis":{"values":[0,10,20,30,40],"domain":false,"title":null,"tickSize":3,"labelFontSize":8,"labelPadding":2}},"text":{"field":"s"}}}
   ]}
 ]}
]},
{"bounds":"flush","spacing":8,"hconcat":[
 {"width":141,"height":146,
  "encoding":{"x":{"field":"x","type":"quantitative","scale":{"domain":[-1,1.169],"nice":false,"zero":false},"axis":null},"y":{"field":"y","type":"quantitative","scale":{"domain":[-1,1.15],"nice":false,"zero":false},"axis":null}},
  "layer":[
   {"data":{"values":[{"x":0,"y":0}]},"mark":{"type":"point","shape":"M -1 0 A 1 1.046 0 1 1 1 0 A 1 1.046 0 1 1 -1 0 Z M -0.12 -1.03 L 0 -1.19 L 0.12 -1.03","size":16900,"filled":false,"stroke":"#999","strokeWidth":1,"opacity":1}},
   {"data":{"name":"edges"},"transform":[{"filter":"datum.p==4 && datum.k!='d'"},{"lookup":"a","from":{"data":{"name":"elec"},"key":"e","fields":["x","y"]},"as":["x","y"]},{"lookup":"b","from":{"data":{"name":"elec"},"key":"e","fields":["x","y"]},"as":["xb","yb"]}],"mark":{"type":"rule","stroke":"#222","strokeWidth":0.9},"encoding":{"x2":{"field":"xb"},"y2":{"field":"yb"}}},
   {"data":{"name":"elec"},"mark":{"type":"point","filled":true,"fill":"#fff","stroke":"#888","strokeWidth":0.8,"size":22,"opacity":1}},
   {"data":{"name":"black"},"transform":[{"filter":"datum.p==4"},{"lookup":"e","from":{"data":{"name":"elec"},"key":"e","fields":["x","y"]}}],"mark":{"type":"point","filled":true,"fill":"#000","stroke":"#000","size":30,"opacity":1}}
  ]},
 {"width":37,"height":146,"resolve":{"scale":{"x":"independent"}},
  "data":{"values":[{"c":"a","v":0.3},{"c":"b","v":22}]},
  "layer":[
   {"transform":[{"filter":"datum.c=='a'"}],"mark":{"type":"bar","fill":"#fff","stroke":"#333","strokeWidth":0.8},"encoding":{"x":{"field":"c","type":"nominal","scale":{"domain":["a","b"],"paddingInner":0,"paddingOuter":0.3,"align":0.85},"axis":null},"y":{"field":"v","type":"quantitative","scale":{"domain":[-32.3,87.7],"nice":false},"axis":{"values":[0,10,20,30,40],"domain":false,"title":null,"tickSize":3,"labelFontSize":8,"labelPadding":2}},"y2":{"datum":0}}},
   {"transform":[{"filter":"datum.c=='b'"}],"mark":{"type":"bar","stroke":"#333","strokeWidth":0.8,"fill":{"gradient":"linear","x1":0,"y1":0,"x2":0.633,"y2":1.194,"stops":[{"offset":0,"color":"#666"},{"offset":0.036,"color":"#fff"},{"offset":0.071,"color":"#666"},{"offset":0.107,"color":"#fff"},{"offset":0.143,"color":"#666"},{"offset":0.179,"color":"#fff"},{"offset":0.214,"color":"#666"},{"offset":0.25,"color":"#fff"},{"offset":0.286,"color":"#666"},{"offset":0.321,"color":"#fff"},{"offset":0.357,"color":"#666"},{"offset":0.393,"color":"#fff"},{"offset":0.429,"color":"#666"},{"offset":0.464,"color":"#fff"},{"offset":0.5,"color":"#666"},{"offset":0.536,"color":"#fff"},{"offset":0.571,"color":"#666"},{"offset":0.607,"color":"#fff"},{"offset":0.643,"color":"#666"},{"offset":0.679,"color":"#fff"},{"offset":0.714,"color":"#666"},{"offset":0.75,"color":"#fff"},{"offset":0.786,"color":"#666"},{"offset":0.821,"color":"#fff"},{"offset":0.857,"color":"#666"},{"offset":0.893,"color":"#fff"},{"offset":0.929,"color":"#666"},{"offset":0.964,"color":"#fff"},{"offset":1,"color":"#666"}]}},"encoding":{"x":{"field":"c","type":"nominal","scale":{"domain":["a","b"],"paddingInner":0,"paddingOuter":0.3,"align":0.85},"axis":null},"y":{"field":"v","type":"quantitative","scale":{"domain":[-32.3,87.7],"nice":false},"axis":{"values":[0,10,20,30,40],"domain":false,"title":null,"tickSize":3,"labelFontSize":8,"labelPadding":2}},"y2":{"datum":0}}},
   {"data":{"values":[{"c":"a","v":24,"o":1},{"c":"a","v":26,"o":2},{"c":"b","v":26,"o":3},{"c":"b","v":24,"o":4}]},"mark":{"type":"line","stroke":"#333","strokeWidth":0.8},"encoding":{"x":{"field":"c","type":"nominal","scale":{"domain":["a","b"],"paddingInner":0,"paddingOuter":0.3,"align":0.85},"axis":null},"y":{"field":"v","type":"quantitative","scale":{"domain":[-32.3,87.7],"nice":false},"axis":{"values":[0,10,20,30,40],"domain":false,"title":null,"tickSize":3,"labelFontSize":8,"labelPadding":2}},"order":{"field":"o"}}},
   {"data":{"values":[{"c":"b","v":26,"s":"***"}]},"mark":{"type":"text","align":"center","baseline":"alphabetic","dx":-7,"dy":4,"fontSize":12,"fill":"#111"},"encoding":{"x":{"field":"c","type":"nominal","scale":{"domain":["a","b"],"paddingInner":0,"paddingOuter":0.3,"align":0.85},"axis":null},"y":{"field":"v","type":"quantitative","scale":{"domain":[-32.3,87.7],"nice":false},"axis":{"values":[0,10,20,30,40],"domain":false,"title":null,"tickSize":3,"labelFontSize":8,"labelPadding":2}},"text":{"field":"s"}}},
   {"data":{"values":[{}]},"mark":{"type":"rule","stroke":"#333","strokeWidth":0.8},"encoding":{"y":{"datum":0,"type":"quantitative","scale":{"domain":[-32.3,87.7],"nice":false},"axis":{"values":[0,10,20,30,40],"domain":false,"title":null,"tickSize":3,"labelFontSize":8,"labelPadding":2}}}},
   {"data":{"values":[{}]},"mark":{"type":"rule","stroke":"#333","strokeWidth":0.8},"encoding":{"x":{"datum":0,"type":"quantitative","scale":{"domain":[0,1]},"axis":null},"y":{"datum":0,"type":"quantitative","scale":{"domain":[-32.3,87.7],"nice":false},"axis":{"values":[0,10,20,30,40],"domain":false,"title":null,"tickSize":3,"labelFontSize":8,"labelPadding":2}},"y2":{"datum":46}}},
   {"data":{"values":[{"s":"Stage 2 Sleep","v":75.5},{"s":"Slow Oscillation","v":67.3}]},"mark":{"type":"text","align":"left","baseline":"middle","dx":-25,"fontSize":9,"fontWeight":"bold","fill":"#111"},"encoding":{"x":{"datum":0,"type":"quantitative","scale":{"domain":[0,1]},"axis":null},"y":{"field":"v","type":"quantitative","scale":{"domain":[-32.3,87.7],"nice":false},"axis":{"values":[0,10,20,30,40],"domain":false,"title":null,"tickSize":3,"labelFontSize":8,"labelPadding":2}},"text":{"field":"s"}}}
  ]},
 {"width":147,"height":146,
  "encoding":{"x":{"field":"x","type":"quantitative","scale":{"domain":[-1.185,1.077],"nice":false,"zero":false},"axis":null},"y":{"field":"y","type":"quantitative","scale":{"domain":[-1,1.15],"nice":false,"zero":false},"axis":null}},
  "layer":[
   {"data":{"values":[{"x":0,"y":0}]},"mark":{"type":"point","shape":"M -1 0 A 1 1.046 0 1 1 1 0 A 1 1.046 0 1 1 -1 0 Z M -0.12 -1.03 L 0 -1.19 L 0.12 -1.03","size":16900,"filled":false,"stroke":"#999","strokeWidth":1,"opacity":1}},
   {"data":{"name":"edges"},"transform":[{"filter":"datum.p==5 && datum.k=='d'"},{"lookup":"a","from":{"data":{"name":"elec"},"key":"e","fields":["x","y"]},"as":["x","y"]},{"lookup":"b","from":{"data":{"name":"elec"},"key":"e","fields":["x","y"]},"as":["xb","yb"]}],"mark":{"type":"rule","stroke":"#aaa","strokeWidth":0.8,"strokeDash":[3,2]},"encoding":{"x2":{"field":"xb"},"y2":{"field":"yb"}}},
   {"data":{"name":"edges"},"transform":[{"filter":"datum.p==5 && datum.k!='d'"},{"lookup":"a","from":{"data":{"name":"elec"},"key":"e","fields":["x","y"]},"as":["x","y"]},{"lookup":"b","from":{"data":{"name":"elec"},"key":"e","fields":["x","y"]},"as":["xb","yb"]}],"mark":{"type":"rule","stroke":"#222","strokeWidth":0.9},"encoding":{"x2":{"field":"xb"},"y2":{"field":"yb"}}},
   {"data":{"name":"elec"},"mark":{"type":"point","filled":true,"fill":"#fff","stroke":"#888","strokeWidth":0.8,"size":22,"opacity":1}},
   {"data":{"name":"black"},"transform":[{"filter":"datum.p==5"},{"lookup":"e","from":{"data":{"name":"elec"},"key":"e","fields":["x","y"]}}],"mark":{"type":"point","filled":true,"fill":"#000","stroke":"#000","size":30,"opacity":1}}
  ]},
 {"width":37,"height":146,"resolve":{"scale":{"x":"independent"}},
  "data":{"values":[{"c":"a","v":2},{"c":"b","v":46}]},
  "layer":[
   {"transform":[{"filter":"datum.c=='a'"}],"mark":{"type":"bar","fill":"#fff","stroke":"#333","strokeWidth":0.8},"encoding":{"x":{"field":"c","type":"nominal","scale":{"domain":["a","b"],"paddingInner":0,"paddingOuter":0.3,"align":0.85},"axis":null},"y":{"field":"v","type":"quantitative","scale":{"domain":[-32.3,87.7],"nice":false},"axis":{"values":[0,10,20,30,40],"domain":false,"title":null,"tickSize":3,"labelFontSize":8,"labelPadding":2}},"y2":{"datum":0}}},
   {"transform":[{"filter":"datum.c=='b'"}],"mark":{"type":"bar","stroke":"#333","strokeWidth":0.8,"fill":{"gradient":"linear","x1":0,"y1":0,"x2":0.299,"y2":1.178,"stops":[{"offset":0,"color":"#666"},{"offset":0.022,"color":"#fff"},{"offset":0.043,"color":"#666"},{"offset":0.065,"color":"#fff"},{"offset":0.087,"color":"#666"},{"offset":0.109,"color":"#fff"},{"offset":0.13,"color":"#666"},{"offset":0.152,"color":"#fff"},{"offset":0.174,"color":"#666"},{"offset":0.196,"color":"#fff"},{"offset":0.217,"color":"#666"},{"offset":0.239,"color":"#fff"},{"offset":0.261,"color":"#666"},{"offset":0.283,"color":"#fff"},{"offset":0.304,"color":"#666"},{"offset":0.326,"color":"#fff"},{"offset":0.348,"color":"#666"},{"offset":0.37,"color":"#fff"},{"offset":0.391,"color":"#666"},{"offset":0.413,"color":"#fff"},{"offset":0.435,"color":"#666"},{"offset":0.457,"color":"#fff"},{"offset":0.478,"color":"#666"},{"offset":0.5,"color":"#fff"},{"offset":0.522,"color":"#666"},{"offset":0.543,"color":"#fff"},{"offset":0.565,"color":"#666"},{"offset":0.587,"color":"#fff"},{"offset":0.609,"color":"#666"},{"offset":0.63,"color":"#fff"},{"offset":0.652,"color":"#666"},{"offset":0.674,"color":"#fff"},{"offset":0.696,"color":"#666"},{"offset":0.717,"color":"#fff"},{"offset":0.739,"color":"#666"},{"offset":0.761,"color":"#fff"},{"offset":0.783,"color":"#666"},{"offset":0.804,"color":"#fff"},{"offset":0.826,"color":"#666"},{"offset":0.848,"color":"#fff"},{"offset":0.87,"color":"#666"},{"offset":0.891,"color":"#fff"},{"offset":0.913,"color":"#666"},{"offset":0.935,"color":"#fff"},{"offset":0.957,"color":"#666"},{"offset":0.978,"color":"#fff"},{"offset":1,"color":"#666"}]}},"encoding":{"x":{"field":"c","type":"nominal","scale":{"domain":["a","b"],"paddingInner":0,"paddingOuter":0.3,"align":0.85},"axis":null},"y":{"field":"v","type":"quantitative","scale":{"domain":[-32.3,87.7],"nice":false},"axis":{"values":[0,10,20,30,40],"domain":false,"title":null,"tickSize":3,"labelFontSize":8,"labelPadding":2}},"y2":{"datum":0}}},
   {"data":{"values":[{"c":"a","v":47.5,"o":1},{"c":"a","v":49.5,"o":2},{"c":"b","v":49.5,"o":3},{"c":"b","v":47.5,"o":4}]},"mark":{"type":"line","stroke":"#333","strokeWidth":0.8},"encoding":{"x":{"field":"c","type":"nominal","scale":{"domain":["a","b"],"paddingInner":0,"paddingOuter":0.3,"align":0.85},"axis":null},"y":{"field":"v","type":"quantitative","scale":{"domain":[-32.3,87.7],"nice":false},"axis":{"values":[0,10,20,30,40],"domain":false,"title":null,"tickSize":3,"labelFontSize":8,"labelPadding":2}},"order":{"field":"o"}}},
   {"data":{"values":[{"c":"b","v":49.5,"s":"***"}]},"mark":{"type":"text","align":"center","baseline":"alphabetic","dx":-7,"dy":4,"fontSize":12,"fill":"#111"},"encoding":{"x":{"field":"c","type":"nominal","scale":{"domain":["a","b"],"paddingInner":0,"paddingOuter":0.3,"align":0.85},"axis":null},"y":{"field":"v","type":"quantitative","scale":{"domain":[-32.3,87.7],"nice":false},"axis":{"values":[0,10,20,30,40],"domain":false,"title":null,"tickSize":3,"labelFontSize":8,"labelPadding":2}},"text":{"field":"s"}}},
   {"data":{"values":[{}]},"mark":{"type":"rule","stroke":"#333","strokeWidth":0.8},"encoding":{"y":{"datum":0,"type":"quantitative","scale":{"domain":[-32.3,87.7],"nice":false},"axis":{"values":[0,10,20,30,40],"domain":false,"title":null,"tickSize":3,"labelFontSize":8,"labelPadding":2}}}},
   {"data":{"values":[{}]},"mark":{"type":"rule","stroke":"#333","strokeWidth":0.8},"encoding":{"x":{"datum":0,"type":"quantitative","scale":{"domain":[0,1]},"axis":null},"y":{"datum":0,"type":"quantitative","scale":{"domain":[-32.3,87.7],"nice":false},"axis":{"values":[0,10,20,30,40],"domain":false,"title":null,"tickSize":3,"labelFontSize":8,"labelPadding":2}},"y2":{"datum":46}}},
   {"data":{"values":[{"s":"Stage 2 Sleep","v":75.5},{"s":"Delta","v":67.3}]},"mark":{"type":"text","align":"left","baseline":"middle","dx":-21,"fontSize":9,"fontWeight":"bold","fill":"#111"},"encoding":{"x":{"datum":0,"type":"quantitative","scale":{"domain":[0,1]},"axis":null},"y":{"field":"v","type":"quantitative","scale":{"domain":[-32.3,87.7],"nice":false},"axis":{"values":[0,10,20,30,40],"domain":false,"title":null,"tickSize":3,"labelFontSize":8,"labelPadding":2}},"text":{"field":"s"}}}
  ]},
 {"width":157,"height":146,
  "encoding":{"x":{"field":"x","type":"quantitative","scale":{"domain":[-1.246,1.169],"nice":false,"zero":false},"axis":null},"y":{"field":"y","type":"quantitative","scale":{"domain":[-1,1.15],"nice":false,"zero":false},"axis":null}},
  "layer":[
   {"data":{"values":[{"x":0,"y":0}]},"mark":{"type":"point","shape":"M -1 0 A 1 1.046 0 1 1 1 0 A 1 1.046 0 1 1 -1 0 Z M -0.12 -1.03 L 0 -1.19 L 0.12 -1.03","size":16900,"filled":false,"stroke":"#999","strokeWidth":1,"opacity":1}},
   {"data":{"name":"edges"},"transform":[{"filter":"datum.p==6 && datum.k=='d'"},{"lookup":"a","from":{"data":{"name":"elec"},"key":"e","fields":["x","y"]},"as":["x","y"]},{"lookup":"b","from":{"data":{"name":"elec"},"key":"e","fields":["x","y"]},"as":["xb","yb"]}],"mark":{"type":"rule","stroke":"#aaa","strokeWidth":0.8,"strokeDash":[3,2]},"encoding":{"x2":{"field":"xb"},"y2":{"field":"yb"}}},
   {"data":{"name":"edges"},"transform":[{"filter":"datum.p==6 && datum.k!='d'"},{"lookup":"a","from":{"data":{"name":"elec"},"key":"e","fields":["x","y"]},"as":["x","y"]},{"lookup":"b","from":{"data":{"name":"elec"},"key":"e","fields":["x","y"]},"as":["xb","yb"]}],"mark":{"type":"rule","stroke":"#222","strokeWidth":0.9},"encoding":{"x2":{"field":"xb"},"y2":{"field":"yb"}}},
   {"data":{"name":"elec"},"mark":{"type":"point","filled":true,"fill":"#fff","stroke":"#888","strokeWidth":0.8,"size":22,"opacity":1}},
   {"data":{"name":"black"},"transform":[{"filter":"datum.p==6"},{"lookup":"e","from":{"data":{"name":"elec"},"key":"e","fields":["x","y"]}}],"mark":{"type":"point","filled":true,"fill":"#000","stroke":"#000","size":30,"opacity":1}}
  ]},
 {"width":37,"height":146,"resolve":{"scale":{"x":"independent"}},
  "data":{"values":[{"c":"a","v":5},{"c":"b","v":24}]},
  "layer":[
   {"transform":[{"filter":"datum.c=='a'"}],"mark":{"type":"bar","fill":"#fff","stroke":"#333","strokeWidth":0.8},"encoding":{"x":{"field":"c","type":"nominal","scale":{"domain":["a","b"],"paddingInner":0,"paddingOuter":0.3,"align":0.85},"axis":null},"y":{"field":"v","type":"quantitative","scale":{"domain":[-32.3,87.7],"nice":false},"axis":{"values":[0,10,20,30,40],"domain":false,"title":null,"tickSize":3,"labelFontSize":8,"labelPadding":2}},"y2":{"datum":0}}},
   {"transform":[{"filter":"datum.c=='b'"}],"mark":{"type":"bar","stroke":"#333","strokeWidth":0.8,"fill":{"gradient":"linear","x1":0,"y1":0,"x2":0.584,"y2":1.202,"stops":[{"offset":0,"color":"#666"},{"offset":0.033,"color":"#fff"},{"offset":0.067,"color":"#666"},{"offset":0.1,"color":"#fff"},{"offset":0.133,"color":"#666"},{"offset":0.167,"color":"#fff"},{"offset":0.2,"color":"#666"},{"offset":0.233,"color":"#fff"},{"offset":0.267,"color":"#666"},{"offset":0.3,"color":"#fff"},{"offset":0.333,"color":"#666"},{"offset":0.367,"color":"#fff"},{"offset":0.4,"color":"#666"},{"offset":0.433,"color":"#fff"},{"offset":0.467,"color":"#666"},{"offset":0.5,"color":"#fff"},{"offset":0.533,"color":"#666"},{"offset":0.567,"color":"#fff"},{"offset":0.6,"color":"#666"},{"offset":0.633,"color":"#fff"},{"offset":0.667,"color":"#666"},{"offset":0.7,"color":"#fff"},{"offset":0.733,"color":"#666"},{"offset":0.767,"color":"#fff"},{"offset":0.8,"color":"#666"},{"offset":0.833,"color":"#fff"},{"offset":0.867,"color":"#666"},{"offset":0.9,"color":"#fff"},{"offset":0.933,"color":"#666"},{"offset":0.967,"color":"#fff"},{"offset":1,"color":"#666"}]}},"encoding":{"x":{"field":"c","type":"nominal","scale":{"domain":["a","b"],"paddingInner":0,"paddingOuter":0.3,"align":0.85},"axis":null},"y":{"field":"v","type":"quantitative","scale":{"domain":[-32.3,87.7],"nice":false},"axis":{"values":[0,10,20,30,40],"domain":false,"title":null,"tickSize":3,"labelFontSize":8,"labelPadding":2}},"y2":{"datum":0}}},
   {"data":{"values":[{"c":"a","v":27,"o":1},{"c":"a","v":29,"o":2},{"c":"b","v":29,"o":3},{"c":"b","v":27,"o":4}]},"mark":{"type":"line","stroke":"#333","strokeWidth":0.8},"encoding":{"x":{"field":"c","type":"nominal","scale":{"domain":["a","b"],"paddingInner":0,"paddingOuter":0.3,"align":0.85},"axis":null},"y":{"field":"v","type":"quantitative","scale":{"domain":[-32.3,87.7],"nice":false},"axis":{"values":[0,10,20,30,40],"domain":false,"title":null,"tickSize":3,"labelFontSize":8,"labelPadding":2}},"order":{"field":"o"}}},
   {"data":{"values":[{"c":"b","v":29,"s":"***"}]},"mark":{"type":"text","align":"center","baseline":"alphabetic","dx":-7,"dy":4,"fontSize":12,"fill":"#111"},"encoding":{"x":{"field":"c","type":"nominal","scale":{"domain":["a","b"],"paddingInner":0,"paddingOuter":0.3,"align":0.85},"axis":null},"y":{"field":"v","type":"quantitative","scale":{"domain":[-32.3,87.7],"nice":false},"axis":{"values":[0,10,20,30,40],"domain":false,"title":null,"tickSize":3,"labelFontSize":8,"labelPadding":2}},"text":{"field":"s"}}},
   {"data":{"values":[{}]},"mark":{"type":"rule","stroke":"#333","strokeWidth":0.8},"encoding":{"y":{"datum":0,"type":"quantitative","scale":{"domain":[-32.3,87.7],"nice":false},"axis":{"values":[0,10,20,30,40],"domain":false,"title":null,"tickSize":3,"labelFontSize":8,"labelPadding":2}}}},
   {"data":{"values":[{}]},"mark":{"type":"rule","stroke":"#333","strokeWidth":0.8},"encoding":{"x":{"datum":0,"type":"quantitative","scale":{"domain":[0,1]},"axis":null},"y":{"datum":0,"type":"quantitative","scale":{"domain":[-32.3,87.7],"nice":false},"axis":{"values":[0,10,20,30,40],"domain":false,"title":null,"tickSize":3,"labelFontSize":8,"labelPadding":2}},"y2":{"datum":46}}},
   {"data":{"values":[{"s":"Stage 2 Sleep","v":75.5},{"s":"Gamma","v":67.3}]},"mark":{"type":"text","align":"left","baseline":"middle","dx":-21,"fontSize":9,"fontWeight":"bold","fill":"#111"},"encoding":{"x":{"datum":0,"type":"quantitative","scale":{"domain":[0,1]},"axis":null},"y":{"field":"v","type":"quantitative","scale":{"domain":[-32.3,87.7],"nice":false},"axis":{"values":[0,10,20,30,40],"domain":false,"title":null,"tickSize":3,"labelFontSize":8,"labelPadding":2}},"text":{"field":"s"}}}
  ]}
]}
]
}
